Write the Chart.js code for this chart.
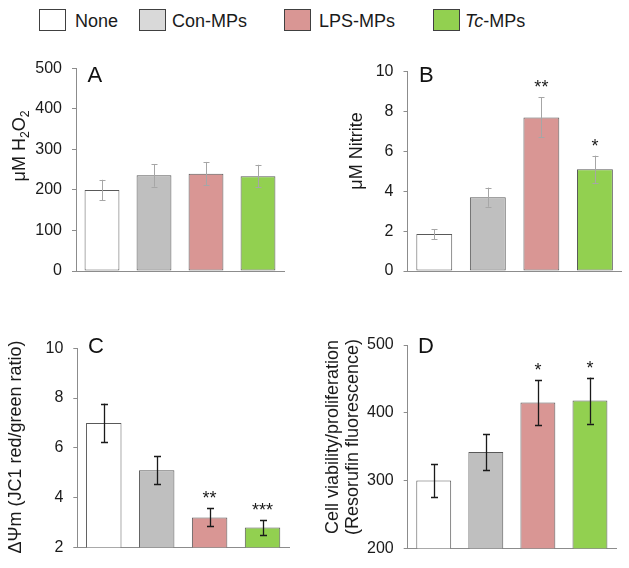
<!DOCTYPE html>
<html>
<head>
<meta charset="utf-8">
<script src="https://cdn.jsdelivr.net/npm/chart.js@4.4.1/dist/chart.umd.min.js"></script>
<style>
  body { margin: 0; background: #fff; }
  #page { position: relative; width: 629px; height: 568px; overflow: hidden; font-family: "Liberation Sans", Arial, sans-serif; }
  canvas { position: absolute; }
  .lg-box { position: absolute; top: 9px; width: 25px; height: 20px; border: 1px solid #404040; }
  .lg-txt { position: absolute; top: 12px; font-size: 18px; line-height: 18px; color: #1a1a1a; white-space: nowrap; }
</style>
</head>
<body>
<div id="page">
  <canvas id="panelA" width="314" height="255" style="left:0;top:40px"></canvas>
  <canvas id="panelB" width="315" height="255" style="left:314px;top:40px"></canvas>
  <canvas id="panelC" width="314" height="268" style="left:0;top:300px"></canvas>
  <canvas id="panelD" width="315" height="268" style="left:314px;top:300px"></canvas>
</div>
<script>
// --- data ---
const groups = ['None', 'Con-MPs', 'LPS-MPs', 'Tc-MPs'];

const h2o2 = [200, 236, 240, 234];
const h2o2Err = [25, 28, 29, 28];
const h2o2Stars = ['', '', '', ''];

const nitrite = [1.85, 3.7, 7.7, 5.1];
const nitriteErr = [0.25, 0.48, 1.0, 0.68];
const nitriteStars = ['', '', '**', '*'];

const jc1 = [7.0, 5.1, 3.2, 2.8];
const jc1Err = [0.78, 0.56, 0.36, 0.3];
const jc1Stars = ['', '', '**', '***'];

const resorufin = [300, 342, 415, 418];
const resorufinErr = [24, 27, 33, 34];
const resorufinStars = ['', '', '*', '*'];

const barColors = ['#ffffff', '#bfbfbf', '#d99694', '#92d050'];
const legendColors = ['#ffffff', '#d9d9d9', '#d99694', '#92d050'];
const FONT = '"Liberation Sans", Arial, sans-serif';

// --- legend (html) ---
const legendBoxX = [39, 139, 284, 433];
const legendTextX = [75, 172, 319, 465];
const page = document.getElementById('page');
groups.forEach((g, i) => {
  const box = document.createElement('div');
  box.className = 'lg-box';
  box.style.left = legendBoxX[i] + 'px';
  box.style.background = legendColors[i];
  page.appendChild(box);
  const txt = document.createElement('div');
  txt.className = 'lg-txt';
  txt.style.left = legendTextX[i] + 'px';
  txt.innerHTML = g.replace(/^Tc/, '<i>Tc</i>');
  page.appendChild(txt);
});

// draw rotated title made of normal and subscript pieces
function drawRotatedTitle(ctx, x, y, parts, size) {
  ctx.save();
  ctx.translate(x, y);
  ctx.rotate(-Math.PI / 2);
  ctx.fillStyle = '#1a1a1a';
  ctx.textBaseline = 'alphabetic';
  ctx.textAlign = 'left';
  let total = 0;
  const widths = parts.map(p => {
    ctx.font = (p.sub ? size * 0.68 : size) + 'px ' + FONT;
    const w = ctx.measureText(p.t).width;
    total += w;
    return w;
  });
  let cx = -total / 2;
  parts.forEach((p, i) => {
    ctx.font = (p.sub ? size * 0.68 : size) + 'px ' + FONT;
    ctx.fillText(p.t, cx, p.sub ? size * 0.22 : 0);
    cx += widths[i];
  });
  ctx.restore();
}

const panelExtras = {
  id: 'panelExtras',
  afterDatasetsDraw(chart, args, opts) {
    const ctx = chart.ctx;
    const yScale = chart.scales.y;
    const meta = chart.getDatasetMeta(0);
    const vals = chart.data.datasets[0].data;
    ctx.save();
    // error bars
    ctx.strokeStyle = opts.errColor;
    ctx.lineWidth = opts.errWidth;
    meta.data.forEach((bar, i) => {
      const top = yScale.getPixelForValue(vals[i] + opts.err[i]);
      const bot = yScale.getPixelForValue(vals[i] - opts.err[i]);
      const x = Math.round(bar.x) + 0.5;
      ctx.beginPath();
      ctx.moveTo(x, top); ctx.lineTo(x, bot);
      ctx.moveTo(x - opts.cap, Math.round(top) + 0.5); ctx.lineTo(x + opts.cap, Math.round(top) + 0.5);
      ctx.moveTo(x - opts.cap, Math.round(bot) + 0.5); ctx.lineTo(x + opts.cap, Math.round(bot) + 0.5);
      ctx.stroke();
      // significance stars
      if (opts.stars[i]) {
        ctx.fillStyle = '#1a1a1a';
        ctx.font = '18px ' + FONT;
        ctx.textAlign = 'center';
        ctx.textBaseline = 'alphabetic';
        ctx.fillText(opts.stars[i], bar.x, top - 4);
      }
    });
    // panel letter
    ctx.fillStyle = '#111';
    ctx.font = '22px ' + FONT;
    ctx.textAlign = 'left';
    ctx.textBaseline = 'alphabetic';
    ctx.fillText(opts.letter, opts.letterX, opts.letterY);
    ctx.restore();
    // y titles
    opts.titles.forEach(t => drawRotatedTitle(ctx, t.x, t.y, t.parts, 18));
  }
};

function makePanel(id, values, errs, stars, yMin, yMax, step, pad, yWidth, extra) {
  return new Chart(document.getElementById(id), {
    type: 'bar',
    data: {
      labels: groups,
      datasets: [{
        data: values,
        backgroundColor: barColors,
        borderColor: '#595959',
        borderWidth: 1,
        borderSkipped: false,
        categoryPercentage: 1,
        barPercentage: 0.67
      }]
    },
    options: {
      responsive: false,
      animation: false,
      devicePixelRatio: 1,
      layout: { autoPadding: false, padding: pad },
      plugins: {
        legend: { display: false },
        tooltip: { enabled: false },
        panelExtras: Object.assign({ err: errs, stars: stars }, extra)
      },
      scales: {
        x: {
          grid: { display: false },
          ticks: { display: false },
          border: { display: true, color: '#8c8c8c', width: 1 },
          afterFit: s => { s.height = 0; }
        },
        y: {
          min: yMin,
          max: yMax,
          ticks: { stepSize: step, color: '#1a1a1a', padding: 10, font: { family: FONT, size: 16 } },
          grid: { drawOnChartArea: false, drawTicks: true, tickLength: 4, color: '#8c8c8c' },
          border: { display: true, color: '#8c8c8c', width: 1 },
          afterFit: s => { s.width = yWidth; }
        }
      }
    },
    plugins: [panelExtras]
  });
}

makePanel('panelA', h2o2, h2o2Err, h2o2Stars, 0, 500, 100,
  { top: 28.3, right: 30, bottom: 24, left: 0 }, 76,
  { errColor: '#a6a6a6', errWidth: 1, cap: 3, letter: 'A', letterX: 87.5, letterY: 41.7,
    titles: [{ x: 25, y: 106, parts: [{ t: 'μM H' }, { t: '2', sub: true }, { t: 'O' }, { t: '2', sub: true }] }] });

makePanel('panelB', nitrite, nitriteErr, nitriteStars, 0, 10, 2,
  { top: 31.5, right: 7.3, bottom: 24, left: 0 }, 93.5,
  { errColor: '#a6a6a6', errWidth: 1, cap: 3, letter: 'B', letterX: 105, letterY: 42,
    titles: [{ x: 47.5, y: 111, parts: [{ t: 'μM Nitrite' }] }] });

makePanel('panelC', jc1, jc1Err, jc1Stars, 2, 10, 2,
  { top: 48.3, right: 25, bottom: 20.7, left: 0 }, 77.3,
  { errColor: '#1a1a1a', errWidth: 1.3, cap: 3.5, letter: 'C', letterX: 88, letterY: 53,
    titles: [{ x: 21, y: 147, parts: [{ t: 'ΔΨm (JC1 red/green ratio)' }] }] });

makePanel('panelD', resorufin, resorufinErr, resorufinStars, 200, 500, 100,
  { top: 45, right: 13, bottom: 19.7, left: 0 }, 93.7,
  { errColor: '#1a1a1a', errWidth: 1.3, cap: 3.5, letter: 'D', letterX: 104, letterY: 53,
    titles: [{ x: 24, y: 137, parts: [{ t: 'Cell viability/proliferation' }] },
             { x: 43.5, y: 137, parts: [{ t: '(Resorufin fluorescence)' }] }] });
</script>
</body>
</html>
